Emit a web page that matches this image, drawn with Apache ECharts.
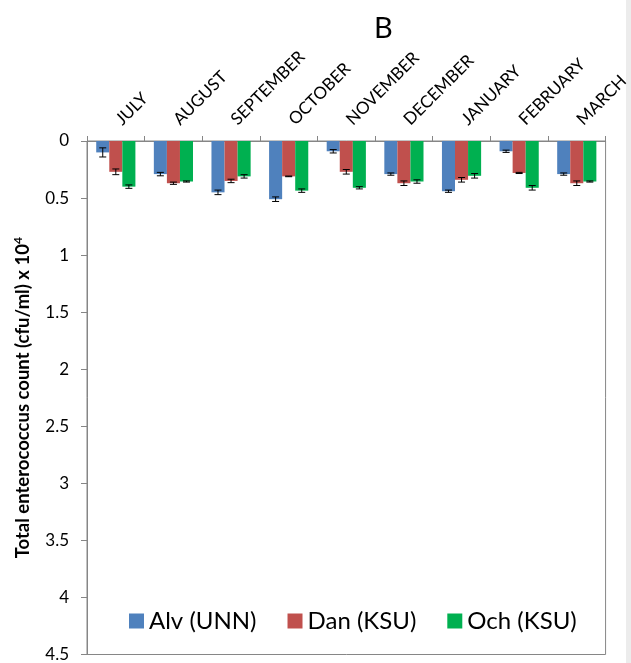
<!DOCTYPE html>
<html><head><meta charset="utf-8">
<script src="https://cdn.jsdelivr.net/npm/echarts@6/dist/echarts.min.js"></script>
<style>html,body{margin:0;padding:0;background:#fff}#c{width:631px;height:663px}</style>
</head><body><div id="c"></div>
<script>
const categories = ['JULY','AUGUST','SEPTEMBER','OCTOBER','NOVEMBER','DECEMBER','JANUARY','FEBRUARY','MARCH'];
const seriesNames = ['Alv (UNN)','Dan (KSU)','Och (KSU)'];
const alvValues = [0.10,0.29,0.45,0.51,0.09,0.29,0.44,0.09,0.29];
const alvErrors = [0.04,0.015,0.02,0.02,0.015,0.01,0.01,0.01,0.01];
const danValues = [0.27,0.37,0.35,0.31,0.27,0.37,0.34,0.28,0.37];
const danErrors = [0.025,0.01,0.015,0.003,0.02,0.02,0.02,0.005,0.02];
const ochValues = [0.40,0.355,0.31,0.435,0.41,0.355,0.305,0.41,0.355];
const ochErrors = [0.015,0.005,0.015,0.015,0.01,0.015,0.02,0.02,0.005];
const yMin = 0, yMax = 4.5, yInterval = 0.5;

const colors = ['#4F81BD','#C0504D','#00B050'];
const catGap = 0.32;
const fontFam = 'Lato, "Open Sans", sans-serif';

function errSeries(vals, errs, idx){
  return {
    type:'custom', z:10, silent:true,
    renderItem:(params, api)=>{
      const i = api.value(0), v = api.value(1), e = api.value(2);
      const band = api.size([1,0])[0];
      const bw = band*(1-catGap)/3;
      const x = api.coord([i, v])[0] + (idx-1)*bw;
      const y1 = api.coord([i, v-e])[1], y2 = api.coord([i, v+e])[1];
      const cap = 3.5, st = {stroke:'#000', lineWidth:1};
      return {type:'group', children:[
        {type:'line', shape:{x1:x,y1:y1,x2:x,y2:y2}, style:st},
        {type:'line', shape:{x1:x-cap,y1:y1,x2:x+cap,y2:y1}, style:st},
        {type:'line', shape:{x1:x-cap,y1:y2,x2:x+cap,y2:y2}, style:st}
      ]};
    },
    data: vals.map((v,i)=>[i, v, errs[i]])
  };
}

const values = [alvValues, danValues, ochValues];
const errors = [alvErrors, danErrors, ochErrors];
const series = [];
values.forEach((vals, k)=>{
  series.push({type:'bar', name:seriesNames[k], data:vals, barGap:'0%', barCategoryGap:(catGap*100)+'%',
    itemStyle:{color:colors[k]}});
});
values.forEach((vals, k)=>{ series.push(errSeries(vals, errors[k], k)); });

const chart = echarts.init(document.getElementById('c'), null, {renderer:'canvas'});
chart.setOption({
  animation:false,
  textStyle:{fontFamily:fontFam},
  title:{text:'B', left:369, top:9, textStyle:{fontSize:29, fontWeight:'normal', color:'#000', fontFamily:fontFam}},
  grid:{left:87, right:13, top:141, bottom:8, show:true, borderColor:'#868686', borderWidth:1},
  legend:{data:seriesNames, top:604, left:124, itemWidth:15, itemHeight:15, itemGap:31,
    icon:'rect', textStyle:{fontSize:24, color:'#000', fontFamily:fontFam}},
  xAxis:{type:'category', data:categories, position:'top',
    axisLine:{lineStyle:{color:'#868686'}},
    axisTick:{show:true, interval:0, length:5, lineStyle:{color:'#868686'}},
    axisLabel:{rotate:45, interval:0, fontSize:17, color:'#000', margin:16, fontFamily:fontFam, padding:[0,0,0,4]}},
  yAxis:{type:'value', inverse:true, min:yMin, max:yMax, interval:yInterval,
    axisLine:{show:true, lineStyle:{color:'#868686'}},
    axisTick:{show:true, length:6, lineStyle:{color:'#868686'}},
    splitLine:{show:false},
    axisLabel:{fontSize:17, color:'#000', margin:18, fontFamily:fontFam},
    name:'{a|Total enterococcus count (cfu/ml) x 10}{s|4}', nameLocation:'middle', nameRotate:90, nameGap:53,
    nameTextStyle:{rich:{
      a:{fontSize:18.5, fontWeight:'bold', color:'#000', fontFamily:fontFam},
      s:{fontSize:12, fontWeight:'bold', color:'#000', fontFamily:fontFam, verticalAlign:'top', padding:[0,0,10,0]}
    }}},
  graphic:[{type:'rect', right:0, top:0, shape:{width:5, height:663}, style:{fill:'#ececec'}, silent:true}],
  series: series
});
</script></body></html>
